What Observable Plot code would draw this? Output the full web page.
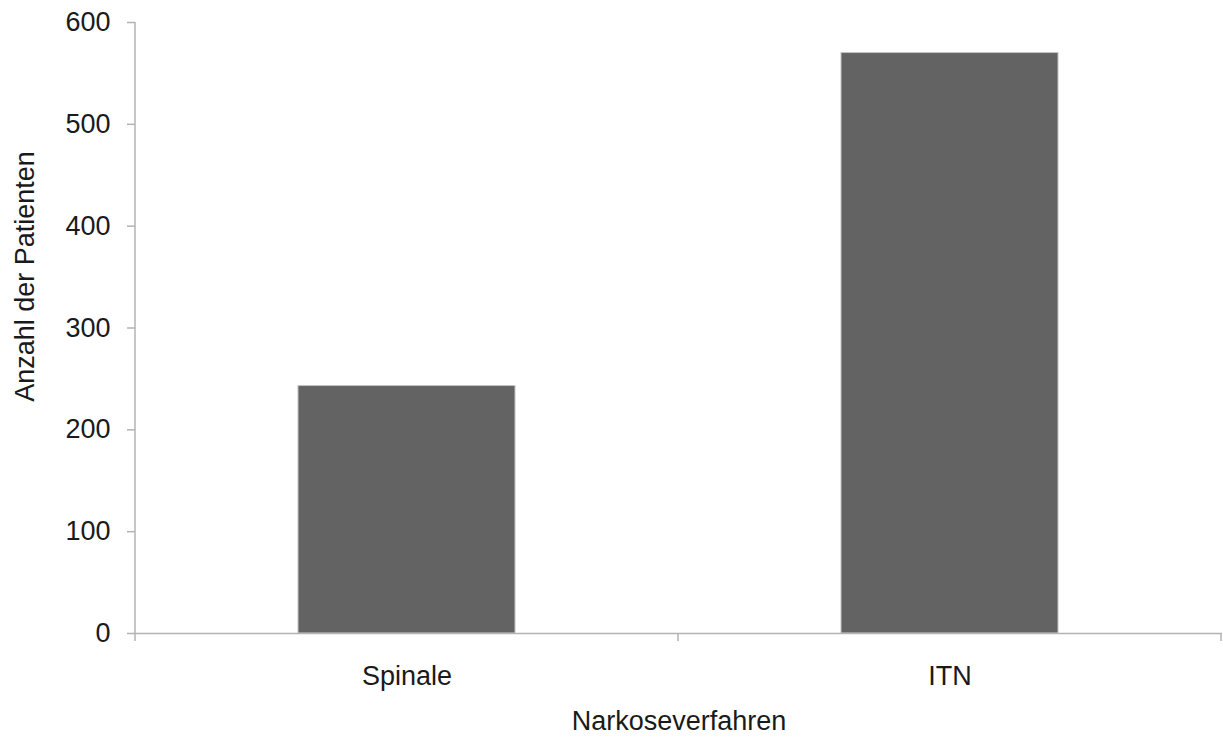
<!DOCTYPE html>
<html><head><meta charset="utf-8">
<script src="https://cdn.jsdelivr.net/npm/d3@7"></script>
<script src="https://cdn.jsdelivr.net/npm/@observablehq/plot@0.6"></script>
<style>html,body{margin:0;padding:0;background:#fff}</style>
</head><body><div id="chart"></div>
<script>
const categories = ["Spinale", "ITN"];
const patients = [243, 570];
const yTicks = [0, 100, 200, 300, 400, 500, 600];
const xLabel = "Narkoseverfahren";
const yLabel = "Anzahl der Patienten";

const data = categories.map((c, i) => ({category: c, value: patients[i]}));
const font = "'Liberation Sans', Arial, Helvetica, sans-serif";
const axisColor = "#b3b3b3";
const textColor = "#1a1a1a";

function boundaryTicks(index, scales, values, dimensions) {
  const sx = scales.x;
  const step = typeof sx.step === "function" ? sx.step() : sx.step;
  const bw = typeof sx.bandwidth === "function" ? sx.bandwidth() : sx.bandwidth;
  const {marginLeft, marginTop, height, marginBottom} = dimensions;
  const y0 = height - marginBottom;
  const g = d3.create("svg:g").attr("stroke", axisColor).attr("stroke-width", 1.5);
  const xs = categories.map(c => sx(c) - (step - bw) / 2);
  xs.push(xs[xs.length - 1] + step);
  for (const x of xs) {
    g.append("line").attr("x1", x).attr("x2", x).attr("y1", y0).attr("y2", y0 + 8);
  }
  g.append("line").attr("x1", marginLeft).attr("x2", marginLeft).attr("y1", marginTop).attr("y2", y0);
  return g.node();
}

const plot = Plot.plot({
  width: 1223, height: 738,
  marginTop: 22, marginBottom: 105, marginLeft: 135, marginRight: 1,
  style: {fontFamily: font, fontSize: "27px", color: textColor, background: "#fff"},
  x: {domain: categories, paddingInner: 0.6, paddingOuter: 0.3, label: null},
  y: {domain: [0, 600], label: null},
  marks: [
    Plot.barY(data, {x: "category", y: "value", fill: "#636363", stroke: "#c4c4c4", strokeWidth: 1}),
    Plot.ruleY([0], {stroke: axisColor, strokeWidth: 1.5}),
    Plot.axisY(yTicks, {tickSize: 8, tickPadding: 17, stroke: axisColor, strokeWidth: 1.5, fill: textColor, fontSize: 27, label: null}),
    Plot.axisX({tickSize: 0, tickPadding: 32, fill: textColor, fontSize: 27, label: null}),
    boundaryTicks,
    Plot.text([xLabel], {frameAnchor: "bottom", lineAnchor: "top", dy: 77, fontSize: 27, fill: textColor}),
    Plot.text([yLabel], {frameAnchor: "left", textAnchor: "middle", rotate: -90, lineAnchor: "bottom", dx: -102, dy: -51.5, fontSize: 27, fill: textColor})
  ]
});
document.getElementById("chart").appendChild(plot);
</script>
</body></html>
